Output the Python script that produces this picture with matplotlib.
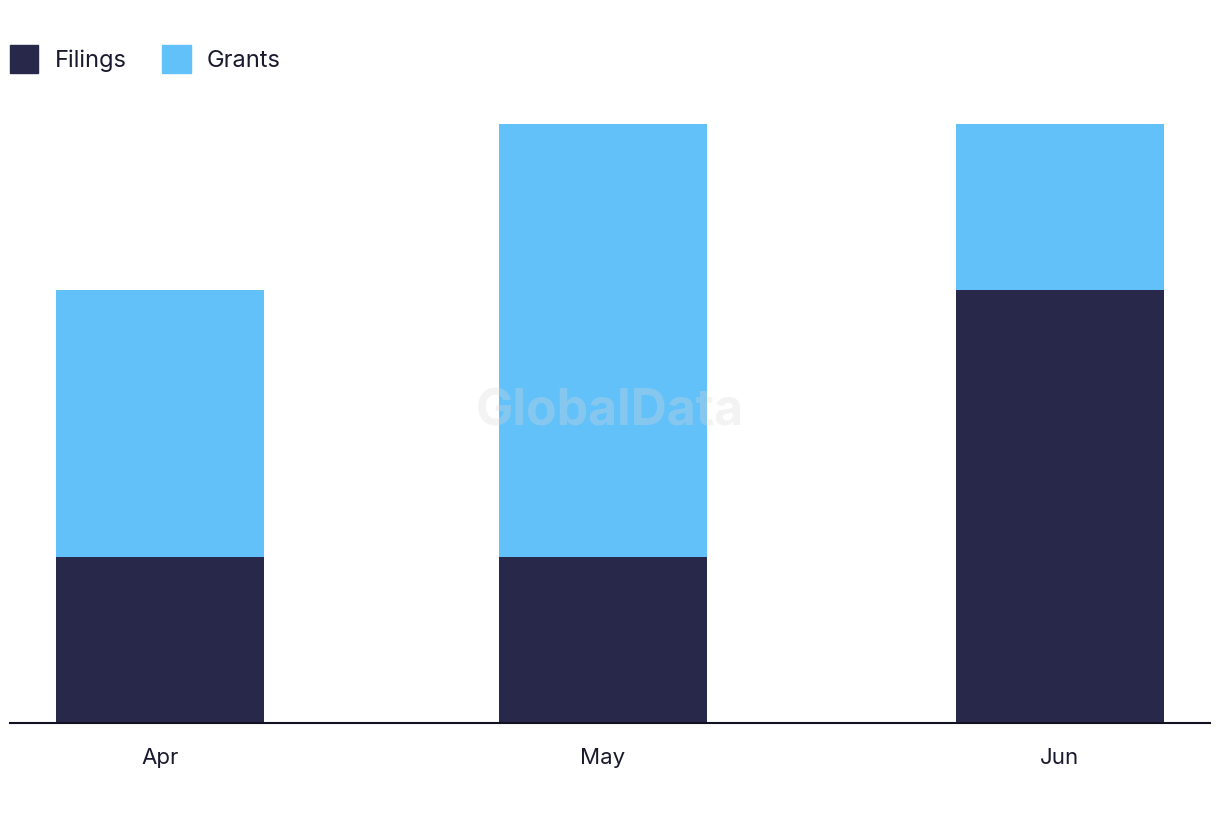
import matplotlib
matplotlib.use("Agg")
import matplotlib.pyplot as plt
import matplotlib.dates as mdates
import matplotlib.patches as mpatches
from datetime import date

# ── data ─────────────────────────────────────────
months  = [date(2023, 4, 1), date(2023, 5, 1), date(2023, 6, 1)]
labels  = ["Apr", "May", "Jun"]
filings = [5, 5, 13]
grants  = [8, 13, 5]

c_fil = "#28284B"
c_gra = "#63C1F9"
plt.rcParams["font.family"] = ["Inter", "DejaVu Sans"]

fig = plt.figure(figsize=(12.2, 8.22), dpi=100)
ax = fig.add_axes([10 / 1220, 99 / 822, 1200 / 1220, 599 / 822])

x = mdates.date2num(months)
ax.bar(x, filings, width=14.1, color=c_fil, zorder=2)
ax.bar(x, grants, width=14.1, bottom=filings, color=c_gra, zorder=2)

ax.set_xlim(x[0] - 10.2, x[-1] + 10.2)
ax.set_ylim(0, 18)
ax.set_xticks(x)
ax.set_xticklabels(labels, fontsize=16, color="#1a1a2e")
ax.tick_params(axis="x", length=0, pad=18)
ax.set_yticks([])
for s in ["top", "right", "left"]:
    ax.spines[s].set_visible(False)
ax.spines["bottom"].set_color("#111122")
ax.spines["bottom"].set_linewidth(1.5)
ax.spines["bottom"].set_zorder(3)

# watermark
fig.text(610 / 1220, 1 - 412 / 822, "GlobalData", fontsize=36, fontweight="bold",
         color="#d8d8d8", alpha=0.3, ha="center", va="center", zorder=5)

# legend
handles = [mpatches.Patch(color=c_fil, label="Filings"),
           mpatches.Patch(color=c_gra, label="Grants")]
fig.legend(handles=handles, loc="upper left", bbox_to_anchor=(3 / 1220, 1 - 38 / 822),
           ncol=2, frameon=False, fontsize=17, handlelength=1.2, handleheight=1.45,
           handletextpad=0.7, columnspacing=1.5, borderaxespad=0, borderpad=0.3,
           labelcolor="#1a1a2e")

fig.savefig("out.png", dpi=100)
